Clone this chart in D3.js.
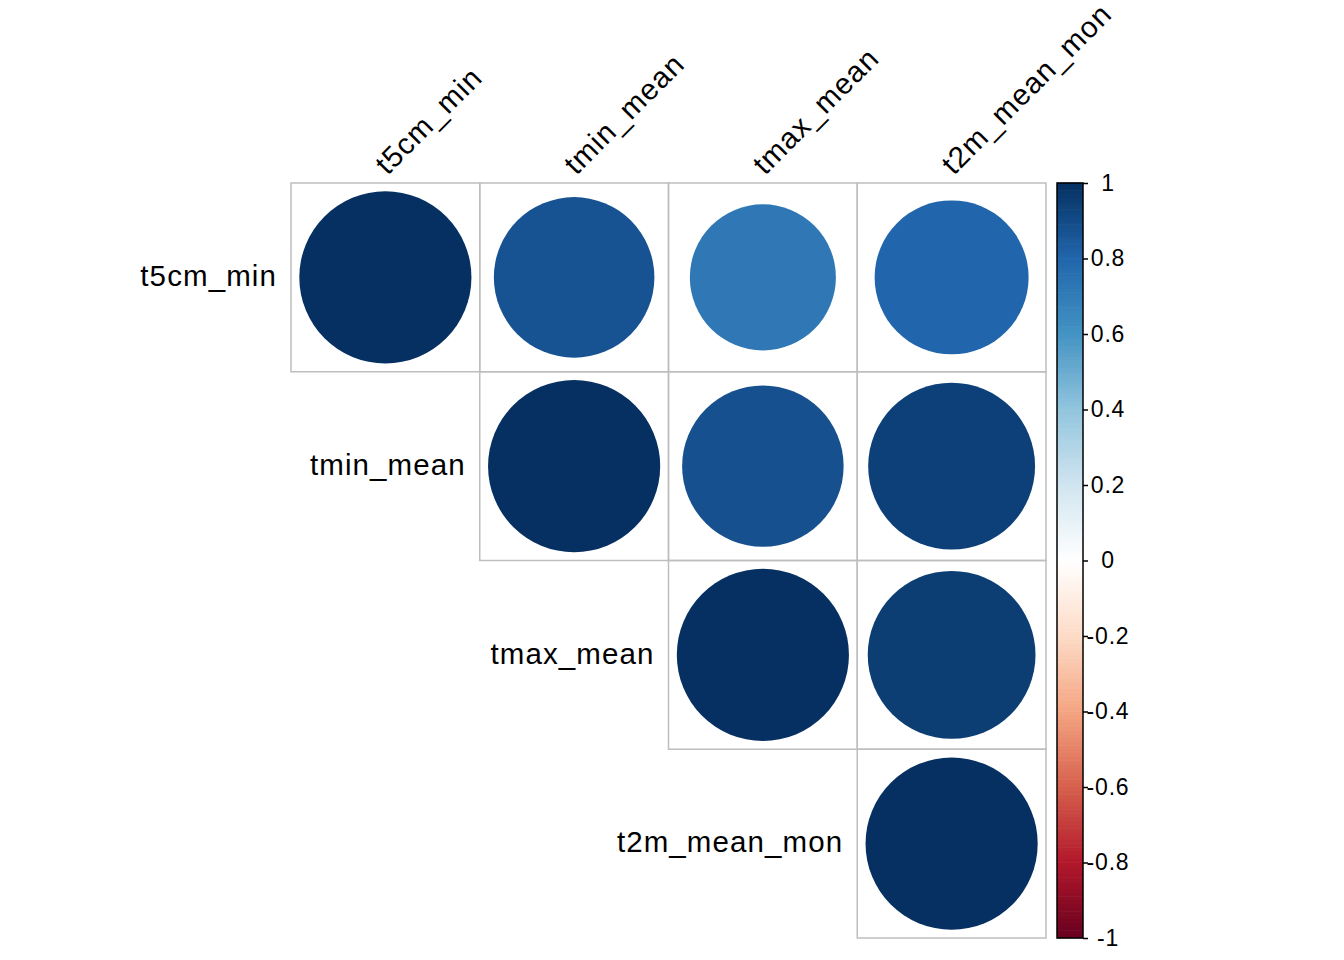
<!DOCTYPE html>
<html>
<head>
<meta charset="utf-8">
<script src="https://cdn.jsdelivr.net/npm/d3@7"></script>
<style>
  body { margin: 0; background: #fff; }
  text { font-family: "Liberation Sans", Arial, Helvetica, sans-serif; fill: #000; }
</style>
</head>
<body>
<svg id="chart"></svg>
<script>
// variables (rows and columns of the matrix)
const vars = ['t5cm_min', 'tmin_mean', 'tmax_mean', 't2m_mean_mon'];

// upper triangle correlations (row, col, r)
const rowIdx = [0, 0, 0, 0, 1, 1, 1, 2, 2, 3];
const colIdx = [0, 1, 2, 3, 1, 2, 3, 2, 3, 3];
const corrValues = [1, 0.87, 0.72, 0.80, 1, 0.88, 0.94, 1, 0.95, 1];

// colour legend ticks
const legendTicks = [1, 0.8, 0.6, 0.4, 0.2, 0, -0.2, -0.4, -0.6, -0.8, -1];

// RdBu palette used by corrplot
const paletteColors = ['#67001F', '#B2182B', '#D6604D', '#F4A582', '#FDDBC7', '#FFFFFF',
                       '#D1E5F0', '#92C5DE', '#4393C3', '#2166AC', '#053061'];

const config = {
  width: 1344,
  height: 960,
  gridLeft: 291,
  gridTop: 183,
  gridSize: 755,
  legendX: 1057,
  legendW: 26
};

const data = corrValues.map((r, i) => ({ row: rowIdx[i], col: colIdx[i], r: r }));

const svg = d3.select('#chart')
  .attr('width', config.width)
  .attr('height', config.height);

const x = d3.scaleBand()
  .domain(d3.range(vars.length))
  .range([config.gridLeft, config.gridLeft + config.gridSize]);

const y = d3.scaleBand()
  .domain(d3.range(vars.length))
  .range([config.gridTop, config.gridTop + config.gridSize]);

const color = d3.scaleLinear()
  .domain(d3.range(paletteColors.length).map(i => -1 + 2 * i / (paletteColors.length - 1)))
  .range(paletteColors);

const maxR = x.bandwidth() / 2 * 0.912;
const radius = d => maxR * Math.sqrt(Math.abs(d));

// cell frames
svg.append('g')
  .selectAll('rect')
  .data(data)
  .join('rect')
  .attr('x', d => x(d.col))
  .attr('y', d => y(d.row))
  .attr('width', x.bandwidth())
  .attr('height', y.bandwidth())
  .attr('fill', 'none')
  .attr('stroke', '#BEBEBE')
  .attr('stroke-width', 1.5);

// circles
svg.append('g')
  .selectAll('circle')
  .data(data)
  .join('circle')
  .attr('cx', d => x(d.col) + x.bandwidth() / 2)
  .attr('cy', d => y(d.row) + y.bandwidth() / 2)
  .attr('r', d => radius(d.r))
  .attr('fill', d => color(d.r));

// row labels (right aligned, left of the diagonal cell)
svg.append('g')
  .selectAll('text')
  .data(vars)
  .join('text')
  .attr('x', (d, i) => x(i) - 14)
  .attr('y', (d, i) => y(i) + y.bandwidth() / 2)
  .attr('dy', '0.3em')
  .attr('text-anchor', 'end')
  .attr('font-size', 29.5)
  .attr('letter-spacing', 1.1)
  .text(d => d);

// column labels (rotated 45 degrees)
svg.append('g')
  .selectAll('text')
  .data(vars)
  .join('text')
  .attr('transform', (d, i) => `translate(${x(i) + x.bandwidth() / 2 + 2},${config.gridTop - 7}) rotate(-45)`)
  .attr('font-size', 29.5)
  .attr('letter-spacing', 1.1)
  .text(d => d);

// colour legend
const ly = d3.scaleLinear()
  .domain([-1, 1])
  .range([config.gridTop + config.gridSize, config.gridTop]);

const steps = d3.range(200).map(i => -1 + (i + 0.5) * 2 / 200);
const legend = svg.append('g');
legend.selectAll('rect')
  .data(steps)
  .join('rect')
  .attr('x', config.legendX)
  .attr('y', d => ly(d + 1 / 200) - 0.3)
  .attr('width', config.legendW)
  .attr('height', ly(-1) - ly(-1 + 2 / 200) + 0.6)
  .attr('fill', d => color(d));

legend.append('rect')
  .attr('x', config.legendX)
  .attr('y', ly(1))
  .attr('width', config.legendW)
  .attr('height', ly(-1) - ly(1))
  .attr('fill', 'none')
  .attr('stroke', '#000')
  .attr('stroke-width', 1.5);

const legendAxis = d3.axisRight(ly)
  .tickValues(legendTicks)
  .tickSize(5)
  .tickPadding(0)
  .tickFormat(d => d3.format('~g')(d).replace('−', '-'));

const axisG = legend.append('g')
  .attr('transform', `translate(${config.legendX + config.legendW},0)`)
  .call(legendAxis);
axisG.select('.domain').remove();
axisG.selectAll('line').attr('stroke', '#000').attr('stroke-width', 1.5);
axisG.selectAll('text')
  .attr('x', 25)
  .attr('text-anchor', 'middle')
  .attr('font-size', 23)
  .attr('letter-spacing', 0.8)
  .attr('font-family', '"Liberation Sans", Arial, sans-serif');
</script>
</body>
</html>
